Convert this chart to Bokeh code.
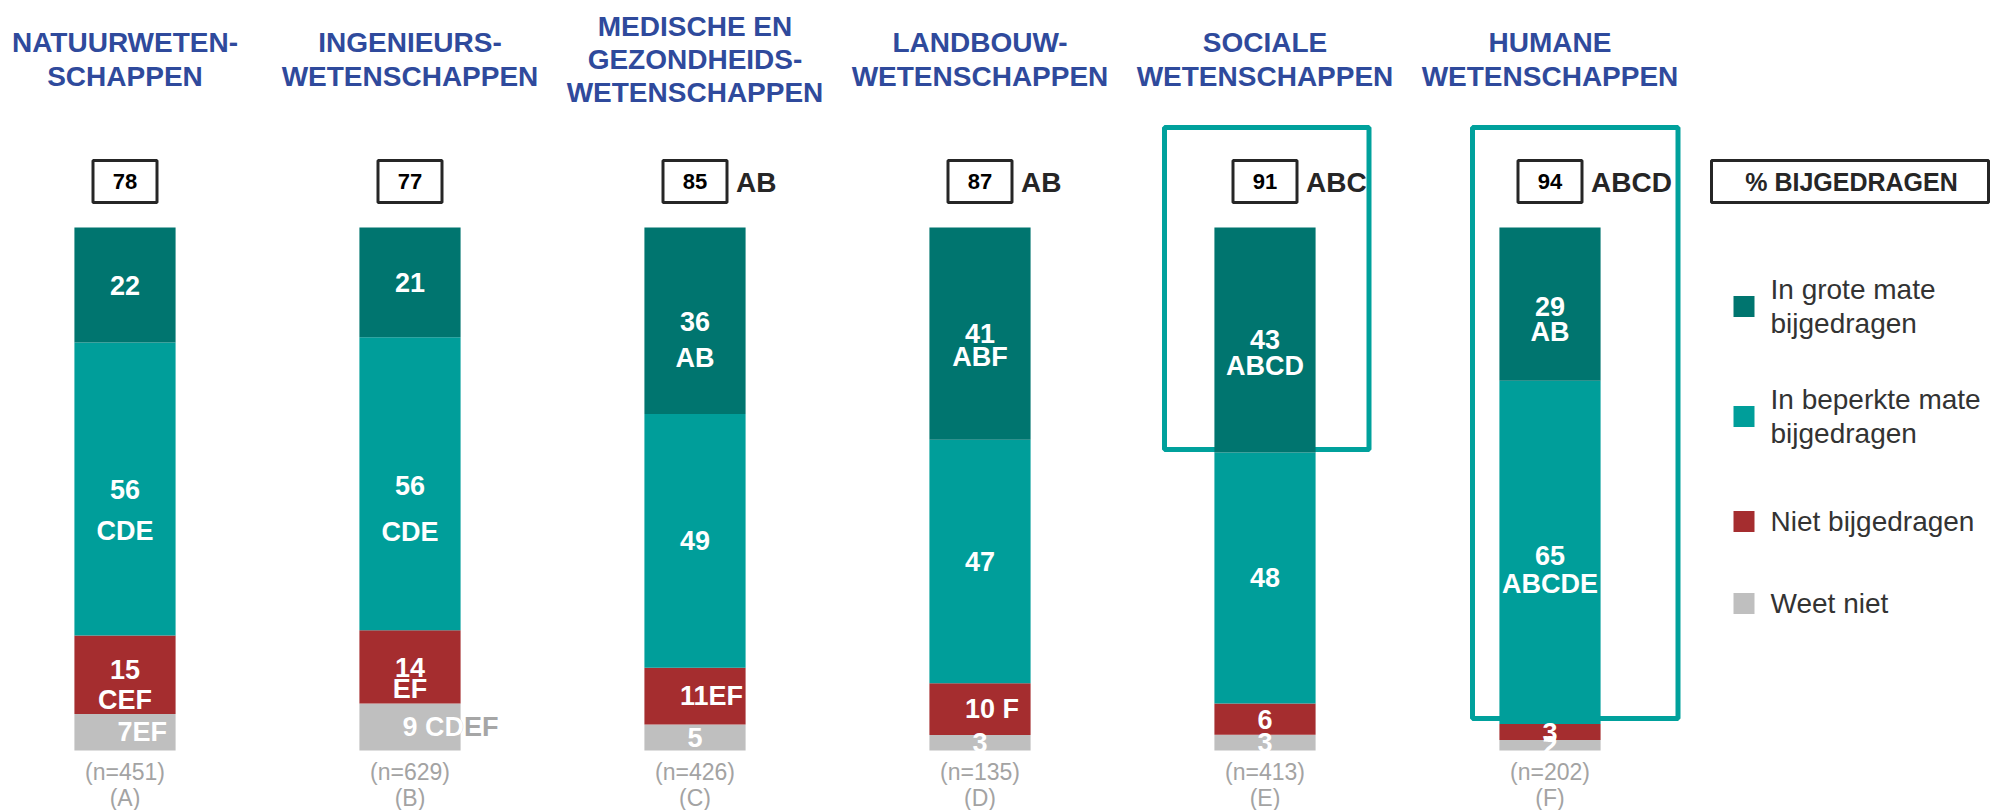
from bokeh.plotting import figure
from bokeh.models import ColumnDataSource, Range1d
from bokeh.embed import file_html
from bokeh.resources import INLINE
from bokeh.core.properties import value

# ---------------- data ----------------
fields = ["NATUURWETEN-\nSCHAPPEN", "INGENIEURS-\nWETENSCHAPPEN",
          "MEDISCHE EN\nGEZONDHEIDS-\nWETENSCHAPPEN", "LANDBOUW-\nWETENSCHAPPEN",
          "SOCIALE\nWETENSCHAPPEN", "HUMANE\nWETENSCHAPPEN"]
group_letters = ["A", "B", "C", "D", "E", "F"]
sample_sizes = [451, 629, 426, 135, 413, 202]
grote_mate = [22, 21, 36, 41, 43, 29]
beperkte_mate = [56, 56, 49, 47, 48, 65]
niet_bijgedragen = [15, 14, 11, 10, 6, 3]
weet_niet = [7, 9, 5, 3, 3, 2]
pct_bijgedragen = [78, 77, 85, 87, 91, 94]
sig_total = ["", "", "AB", "AB", "ABC", "ABCD"]
sig_grote = ["", "", "AB", "ABF", "ABCD", "AB"]
sig_beperkte = ["CDE", "CDE", "", "", "", "ABCDE"]
sig_niet = ["CEF", "EF", "EF", "F", "", ""]
sig_weet = ["EF", "CDEF", "", "", "", ""]
legend_labels = ["In grote mate\nbijgedragen", "In beperkte mate\nbijgedragen",
                 "Niet bijgedragen", "Weet niet"]
highlighted = [4, 5]

# ---------------- style ----------------
C_DARK = "#00756F"
C_TEAL = "#009E9A"
C_RED = "#A52D2F"
C_GRAY = "#BFBFBF"
C_BLUE = "#2F4A9C"
C_BOX = "#262626"
C_HL = "#00A19C"
FONT = value("Liberation Sans")

W, H = 1992, 810
PX_PER_CAT = 285.0
X0_PX = 124.5          # canvas x of first category
PX_PER_PCT = 5.23
Y100_PX = 227.0        # canvas y of 100 %
x_start = -X0_PX / PX_PER_CAT
x_end = x_start + W / PX_PER_CAT
y_end = 100 + Y100_PX / PX_PER_PCT
y_start = y_end - H / PX_PER_PCT


def X(px):
    return x_start + px / PX_PER_CAT


def Y(py):
    return y_end - py / PX_PER_PCT


cats = list(range(len(fields)))

# rounded shares do not always add up to exactly 100: scale each bar to 100 %
totals = [a + b + c + d for a, b, c, d in zip(grote_mate, beperkte_mate, niet_bijgedragen, weet_niet)]


def to100(vals):
    return [v * 100.0 / t for v, t in zip(vals, totals)]


g100, b100, n100, w100 = to100(grote_mate), to100(beperkte_mate), to100(niet_bijgedragen), to100(weet_niet)

p = figure(width=W, height=H, output_backend="svg", toolbar_location=None,
           x_range=Range1d(x_start, x_end), y_range=Range1d(y_start, y_end),
           x_axis_type=None, y_axis_type=None, min_border=0)
p.outline_line_color = None
p.grid.visible = False
p.background_fill_color = "white"

# highlight boxes (behind the bars)
hl_left_px = [-100.5, -77.5]
hl_right_px = [104.0, 128.0]
hl_bottom_py = [449, 718]
for k, i in enumerate(highlighted):
    p.quad(left=[i + hl_left_px[k] / PX_PER_CAT], right=[i + hl_right_px[k] / PX_PER_CAT],
           top=[Y(127)], bottom=[Y(hl_bottom_py[k])],
           fill_color=None, line_color=C_HL, line_width=5)

# stacked bars
src = ColumnDataSource(dict(x=cats, weet=w100, niet=n100, beperkte=b100, grote=g100))
p.vbar_stack(["weet", "niet", "beperkte", "grote"], x="x", width=0.355, source=src,
             color=[C_GRAY, C_RED, C_TEAL, C_DARK], line_color=None)

# segment labels
num_dy = {(0, 2): -5, (1, 1): 2, (1, 2): 1, (2, 0): 1, (5, 0): 2, (5, 1): 3}
let_dy = {(0, 1): 42, (0, 2): 30, (1, 1): 46, (1, 2): 21, (2, 0): 36, (3, 0): 23,
          (4, 0): 26, (5, 0): 26, (5, 1): 29}
inline_sep = {(0, 3): "", (1, 3): " ", (2, 2): "", (3, 2): " "}

lab_x, lab_y, lab_t, lab_dx, lab_dy, lab_align = [], [], [], [], [], []
extra = []
for i in cats:
    segs = [(grote_mate[i], g100[i], sig_grote[i]), (beperkte_mate[i], b100[i], sig_beperkte[i]),
            (niet_bijgedragen[i], n100[i], sig_niet[i]), (weet_niet[i], w100[i], sig_weet[i])]
    base = [w100[i] + n100[i] + b100[i], w100[i] + n100[i], w100[i], 0]
    for s, (v, h, sig) in enumerate(segs):
        yc = base[s] + h / 2
        dy = num_dy.get((i, s), 0)
        if (i, s) in inline_sep:
            nd = len(str(v))
            txt = str(v) + inline_sep[(i, s)] + sig
            if i == 1 and s == 3:
                # part of the label runs out of the bar and shows in grey
                extra.append((i, yc, txt, -7.5 * nd))
                txt = str(v) + inline_sep[(i, s)] + sig[:2]
            lab_x.append(i); lab_y.append(yc); lab_t.append(txt)
            lab_dx.append(-7.5 * nd); lab_dy.append(dy); lab_align.append("left")
        else:
            lab_x.append(i); lab_y.append(yc); lab_t.append(str(v))
            lab_dx.append(0); lab_dy.append(dy); lab_align.append("center")
            if sig:
                lab_x.append(i); lab_y.append(yc); lab_t.append(sig)
                lab_dx.append(0); lab_dy.append(dy + let_dy.get((i, s), 26))
                lab_align.append("center")

for (i, yc, txt, dx) in extra:
    p.text(x=[i], y=[yc], text=[txt], x_offset=dx, text_align="left",
           text_baseline="middle", text_color="#A6A6A6", text_font=FONT,
           text_font_style="bold", text_font_size="27px")

lab_src = ColumnDataSource(dict(x=lab_x, y=lab_y, t=lab_t, dx=lab_dx, dy=lab_dy, al=lab_align))
p.text(x="x", y="y", text="t", x_offset="dx", y_offset="dy", text_align="al",
       source=lab_src, text_baseline="middle", text_color="white", text_font=FONT,
       text_font_style="bold", text_font_size="27px")

# titles
p.text(x=cats, y=[Y(59)] * len(cats), text=fields, text_align="center",
       text_baseline="middle", text_color=C_BLUE, text_font=FONT,
       text_font_style="bold", text_font_size="28px", text_line_height=1.08)

# % bijgedragen boxes
p.rect(x=cats, y=[Y(181)] * len(cats), width=64, height=42, width_units="screen",
       height_units="screen", fill_color="white", line_color=C_BOX, line_width=3)
p.text(x=cats, y=[Y(181)] * len(cats), text=[str(v) for v in pct_bijgedragen],
       text_align="center", text_baseline="middle", text_color="black", text_font=FONT,
       text_font_style="bold", text_font_size="22px")
p.text(x=cats, y=[Y(182)] * len(cats), text=sig_total, x_offset=41, text_align="left",
       text_baseline="middle", text_color=C_BOX, text_font=FONT,
       text_font_style="bold", text_font_size="28px")

# header box on the right
p.quad(left=[X(1711)], right=[X(1988)], top=[Y(160)], bottom=[Y(202)],
       fill_color="white", line_color=C_BOX, line_width=3)
p.text(x=[X(1851)], y=[Y(181)], text=["% BIJGEDRAGEN"], text_align="center",
       text_baseline="middle", text_color=C_BOX, text_font=FONT,
       text_font_style="bold", text_font_size="25px")

# legend
leg_colors = [C_DARK, C_TEAL, C_RED, C_GRAY]
leg_y = [306, 416, 521, 603]
p.rect(x=[X(1743.5)] * 4, y=[Y(v) for v in leg_y], width=21, height=21,
       width_units="screen", height_units="screen", fill_color=leg_colors, line_color=None)
p.text(x=[X(1770)] * 4, y=[Y(v) for v in leg_y], text=legend_labels, text_align="left",
       text_baseline="middle", text_color="#333333", text_font=FONT,
       text_font_size="28px", text_line_height=1.11)

# sample sizes
p.text(x=cats, y=[Y(771)] * len(cats), text=["(n=%d)" % n for n in sample_sizes],
       text_align="center", text_baseline="middle", text_color="#A3A3A3", text_font=FONT,
       text_font_size="23px")
p.text(x=cats, y=[Y(797)] * len(cats), text=["(%s)" % g for g in group_letters],
       text_align="center", text_baseline="middle", text_color="#A3A3A3", text_font=FONT,
       text_font_size="23px")

open("out.html", "w").write(file_html(p, INLINE))
